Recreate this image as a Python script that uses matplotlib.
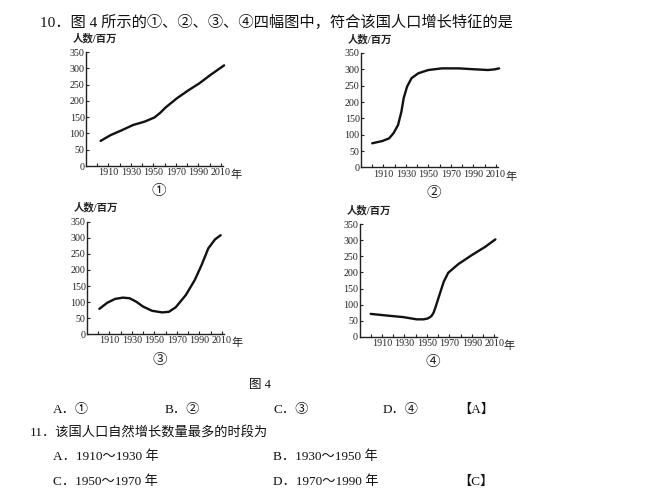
import numpy as np
import matplotlib.pyplot as plt

plt.rcParams['font.family'] = ['Liberation Serif', 'Noto Sans CJK SC', 'DejaVu Sans']

W, H = 651, 491

# population curves (millions)
years_1 = [1903, 1912, 1922, 1932, 1942, 1951, 1956, 1961, 1971, 1981, 1991, 2001, 2013]
pop_1 = [77, 95, 110, 126, 136, 149, 163, 180, 208, 232, 254, 280, 309]

years_2 = [1900, 1909, 1915, 1919, 1923, 1926, 1928, 1931, 1935, 1941, 1950, 1962, 1977, 1992, 2003, 2009, 2013]
pop_2 = [74, 81, 89, 105, 130, 171, 212, 247, 273, 288, 298, 303, 303, 300, 298, 300, 303]

years_3 = [1901, 1908, 1915, 1922, 1928, 1934, 1940, 1948, 1957, 1963, 1969, 1978, 1986, 1992, 1998, 2004, 2009]
pop_3 = [79, 98, 110, 114, 112, 101, 86, 73, 68, 70, 84, 122, 169, 215, 267, 295, 308]

years_4 = [1900, 1914, 1929, 1941, 1947, 1951, 1954, 1956, 1958, 1961, 1965, 1969, 1978, 1990, 2002, 2011]
pop_4 = [71, 66, 61, 54, 54, 57, 64, 75, 95, 128, 171, 199, 226, 254, 280, 303]

y_ticks = [0, 50, 100, 150, 200, 250, 300, 350]
x_ticks = list(range(1900, 2011, 10))
x_labels = ['' if y % 20 == 0 else str(y) for y in x_ticks]
circled = ['①', '②', '③', '④']

# chart boxes in pixels: left, bottom, top
boxes = [(86, 166, 52), (361, 167.5, 53), (87, 334.3, 221.7), (359.5, 336.7, 224.3)]
series = [(years_1, pop_1), (years_2, pop_2), (years_3, pop_3), (years_4, pop_4)]
axis_w = 137

fig = plt.figure(figsize=(W / 100, H / 100), dpi=100)
fig.patch.set_facecolor('white')

def px(x, y):
    return x / W, 1 - y / H

for (left, bottom, top), (xs, ys), mark in zip(boxes, series, circled):
    ax = fig.add_axes([left / W, 1 - bottom / H, axis_w / W, (bottom - top) / H])
    ax.plot(xs, ys, color='#111111', lw=1.7, solid_capstyle='round',
            solid_joinstyle='round', clip_on=False)
    ax.set_xlim(1890, 2012)
    ax.set_ylim(0, 350)
    for s in ['top', 'right']:
        ax.spines[s].set_visible(False)
    for s in ['left', 'bottom']:
        ax.spines[s].set_linewidth(1.0)
        ax.spines[s].set_color('#222222')
    ax.set_yticks(y_ticks)
    ax.set_xticks(x_ticks)
    ax.set_xticklabels(x_labels)
    ax.tick_params(direction='in', length=2.5, width=0.8, colors='#222222',
                   labelsize=7.2, pad=1.5)
    ax.tick_params(axis='y', pad=1)
    ax.patch.set_alpha(0)

    fig.text(*px(left - 13, top - 14), '人数/百万', fontsize=7.5, ha='left', va='center',
             color='#222222', fontweight='bold')
    fig.text(*px(left + 150, bottom + 9), '年', fontsize=8, ha='center', va='center',
             color='#222222')
    fig.text(*px(left + 73, bottom + 26), mark, fontsize=10.5, ha='center', va='center',
             color='#222222')

fig.text(*px(40, 22), '10．图 4 所示的①、②、③、④四幅图中，符合该国人口增长特征的是',
         fontsize=11, ha='left', va='center', color='#111111')
fig.text(*px(260, 385), '图 4', fontsize=9, ha='center', va='center', color='#111111')

options_10 = ['A．①', 'B．②', 'C．③', 'D．④']
for x, t in zip([53, 165, 273, 383], options_10):
    fig.text(*px(x, 410), t, fontsize=9.5, ha='left', va='center', color='#111111')
fig.text(*px(476, 410), '【A】', fontsize=9.5, ha='center', va='center', color='#111111')

fig.text(*px(30, 432), '11．该国人口自然增长数量最多的时段为', fontsize=9.5,
         ha='left', va='center', color='#111111')
options_11 = ['A．1910～1930 年', 'B．1930～1950 年', 'C．1950～1970 年', 'D．1970～1990 年']
for (x, y), t in zip([(53, 457), (273, 457), (53, 482), (273, 482)], options_11):
    fig.text(*px(x, y), t, fontsize=9.5, ha='left', va='center', color='#111111')
fig.text(*px(476, 482), '【C】', fontsize=9.5, ha='center', va='center', color='#111111')

fig.savefig('out.png', dpi=100, facecolor='white')
